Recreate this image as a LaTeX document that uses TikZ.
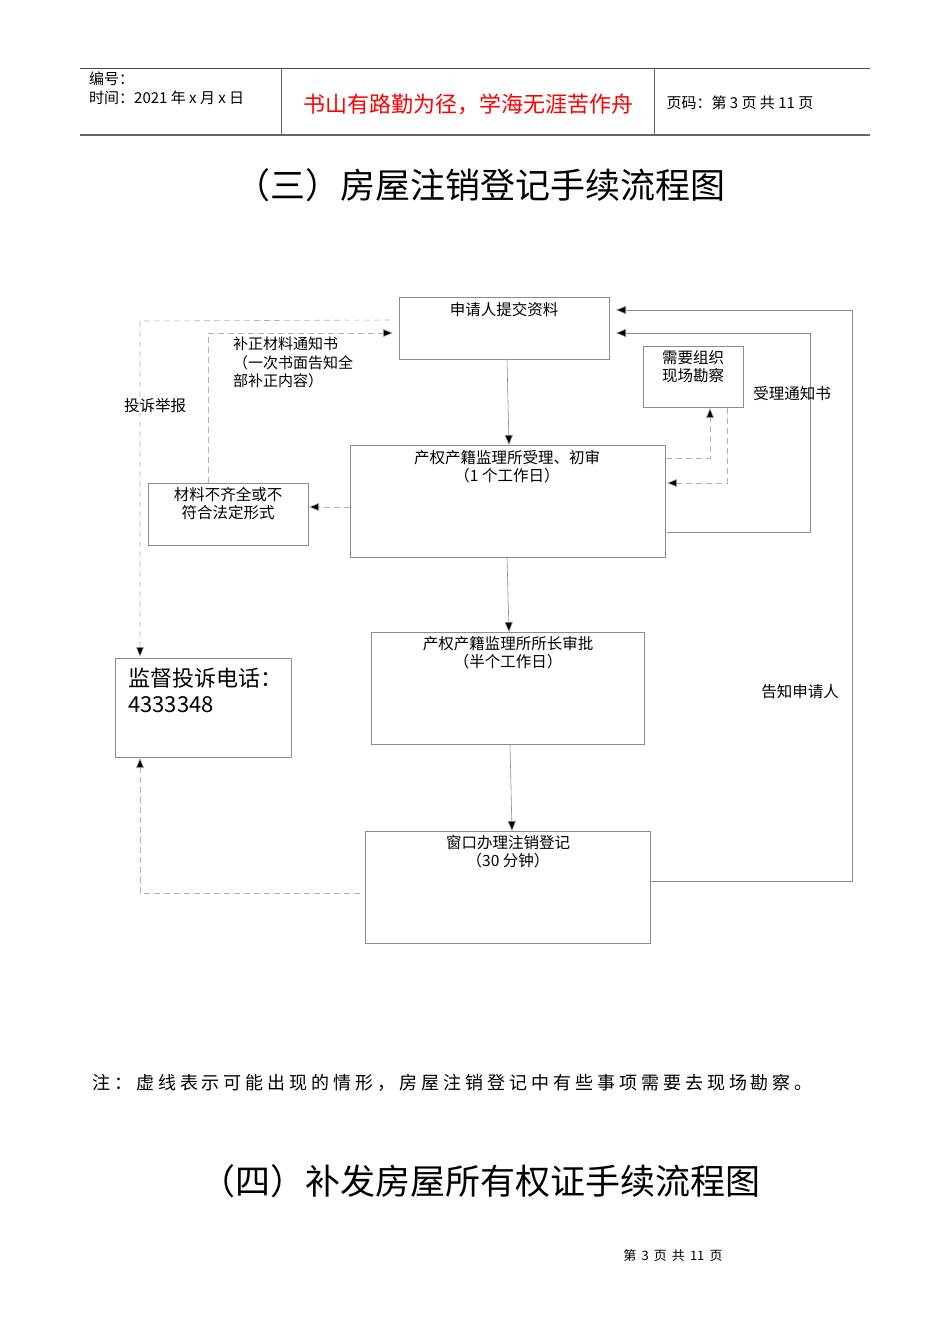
\documentclass[tikz,border=0pt]{standalone}
\usepackage{fontspec}
\setmainfont{Noto Sans CJK SC}
\usetikzlibrary{arrows.meta}
\begin{document}
\begin{tikzpicture}[x=1pt,y=-1pt,
  box/.style={draw=black!45,line width=0.6pt},
  lbl/.style={font=\fontsize{15.5}{18.5}\selectfont,align=center,anchor=north,inner sep=0pt},
  sol/.style={draw=black!45,line width=0.6pt,-{Triangle[length=10pt,width=8pt,fill=black]}},
  das/.style={sol,dash pattern=on 6pt off 4pt,draw=black!30}]
\useasboundingbox (0,0) rectangle (950,1344);
% header
\draw[black!70,line width=0.8pt] (80,68) -- (870,68);
\draw[black!60,line width=1.2pt] (80,135) -- (870,135);
\draw[black!60] (281,68) -- (281,135) (654,68) -- (654,135);
\node[anchor=north west,align=left,inner sep=0pt,font=\fontsize{15}{19}\selectfont] at (89,72) {编号：\\时间：2021 年 x 月 x 日};
\node[text=red,font=\fontsize{22}{26}\selectfont] at (468,104) {书山有路勤为径，学海无涯苦作舟};
\node[anchor=west,font=\fontsize{15}{18}\selectfont] at (663,103) {页码：第 3 页 共 11 页};
\node[font=\fontsize{35}{40}\selectfont] at (480,185) {（三）房屋注销登记手续流程图};
% boxes
\draw[box] (399,297) rectangle (609,359); \node (A) [lbl] at (504,302) {申请人提交资料};
\draw[box] (643,346) rectangle (743,407); \node (B) [lbl] at (693,350) {需要组织\\现场勘察};
\draw[box] (350,445) rectangle (665,557); \node (C) [lbl] at (507,450) {产权产籍监理所受理、初审\\（1 个工作日）};
\draw[box] (148,483) rectangle (308,545); \node (D) [lbl] at (228,487) {材料不齐全或不\\符合法定形式};
\draw[box] (371,632) rectangle (644,744); \node (E) [lbl] at (508,636) {产权产籍监理所所长审批\\（半个工作日）};
\draw[box] (115,658) rectangle (291,757); \node (F) [anchor=north west,align=left,inner sep=0pt,font=\fontsize{22}{26}\selectfont] at (128,668) {监督投诉电话：\\4333348};
\draw[box] (365,831) rectangle (650,943); \node (G) [lbl] at (508,835) {窗口办理注销登记\\（30 分钟）};
% connectors
\draw[sol] (507,359) -- (509,445);
\draw[sol] (507,557) -- (509,632);
\draw[sol] (510,744) -- (512,831);
\draw[das] (350,507) -- (309,507);
\draw[das] (208,483) -- (208,333) -- (393,333);
\draw[das] (390,320) -- (140,321) -- (140,657);
\draw[das] (360,893) -- (140,893) -- (140,758);
\draw[das] (666,458) -- (710,458) -- (710,408);
\draw[das] (727,408) -- (727,483) -- (667,483);
\draw[sol] (667,532) -- (810,532) -- (810,333) -- (616,333);
\draw[sol] (651,881) -- (852,881) -- (852,310) -- (616,310);
% labels
\node[anchor=north west,align=left,inner sep=0pt,font=\fontsize{15}{18.5}\selectfont] at (233,337) {补正材料通知书\\（一次书面告知全\\部补正内容）};
\node[font=\fontsize{15.5}{18}\selectfont] at (155,406) {投诉举报};
\node[font=\fontsize{15.5}{18}\selectfont] at (792,394) {受理通知书};
\node[font=\fontsize{15.5}{18}\selectfont] at (800,692) {告知申请人};
\node[anchor=west,inner sep=0pt,font=\fontsize{18}{20}\selectfont\addfontfeature{LetterSpace=22}] at (92,1083) {注：虚线表示可能出现的情形，房屋注销登记中有些事项需要去现场勘察。};
\node[font=\fontsize{35}{40}\selectfont] at (480,1181) {（四）补发房屋所有权证手续流程图};
\node[font=\fontsize{13}{14}\selectfont] at (673,1256) {第\, 3\, 页\, 共\, 11\, 页};
\end{tikzpicture}
\end{document}
